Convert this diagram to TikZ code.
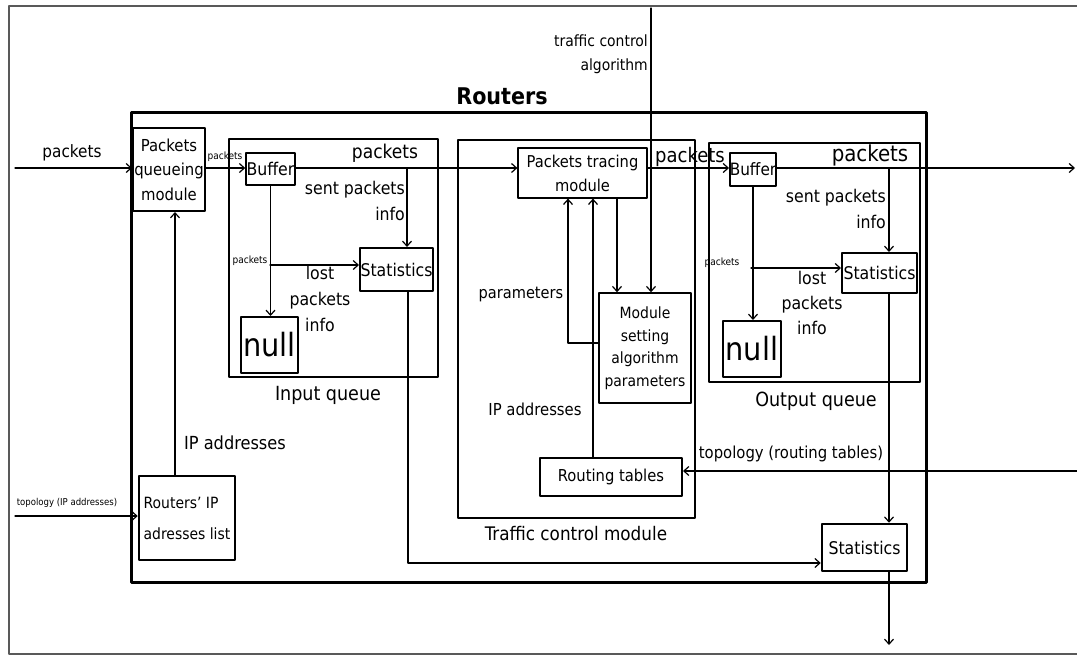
\documentclass[tikz,border=0pt]{standalone}
\usepackage{fontspec}
\setmainfont{DejaVu Sans Condensed}
\usetikzlibrary{arrows.meta}

\tikzset{
  box/.style={draw, rectangle, inner sep=0pt, align=center},
  wire/.style={line width=1.2pt, -{Straight Barb[length=5pt,width=9pt,line width=1.2pt]}},
  lbl/.style={inner sep=0pt, align=center},
}
\newcommand{\fs}[2]{\fontsize{#1}{#2}\selectfont}

\begin{document}
\begin{tikzpicture}[x=1pt, y=-1pt, line cap=round, line join=round]

  %% ════ 外框（右边没有线）════
  \draw[line width=1.5pt, black!65] (1077,6) -- (9,6) -- (9,654) -- (1077,654);

  %% ════ 容器 ════
  \node[box, line width=3pt, minimum width=795pt, minimum height=470pt] (routers) at (528.5,347) {};
  \node[box, line width=2pt, minimum width=209pt, minimum height=238pt] (inq) at (333.5,258) {};
  \node[box, line width=2pt, minimum width=237pt, minimum height=378pt] (tcm) at (576.5,329) {};
  \node[box, line width=2.5pt, minimum width=211pt, minimum height=239pt] (outq) at (814.5,262.5) {};

  %% ════ 方块 ════
  \node[box, line width=2pt, minimum width=72pt, minimum height=83pt, font=\fs{16.5}{24.5}] (pqm) at (169,169.5) {Packets\\queueing\\module};
  \node[box, line width=1.5pt, minimum width=49pt, minimum height=32pt, font=\fs{17.5}{20}] (inbuf) at (270.5,169) {Buffer};
  \node[box, line width=2pt, minimum width=73pt, minimum height=43pt, font=\fs{17.5}{20}] (instat) at (396.5,269.5) {Statistics};
  \node[box, line width=2pt, minimum width=57pt, minimum height=56pt, font=\fs{32}{34}] (innull) at (269.5,345) {null};
  \node[box, line width=1.2pt, minimum width=129pt, minimum height=50pt, font=\fs{16.3}{24}] (ptm) at (582.5,173) {Packets tracing\\module};
  \node[box, line width=1.5pt, minimum width=92pt, minimum height=110pt, font=\fs{15.5}{22.5}] (msap) at (645,348) {Module\\setting\\algorithm\\parameters};
  \node[box, line width=2pt, minimum width=142pt, minimum height=38pt, font=\fs{16.4}{20}] (rt) at (611,477) {Routing tables};
  \node[box, line width=1.5pt, minimum width=46pt, minimum height=33pt, font=\fs{17}{20}] (outbuf) at (753,169.5) {Buffer};
  \node[box, line width=2pt, minimum width=75pt, minimum height=40pt, font=\fs{17.5}{20}] (outstat) at (879.5,273) {Statistics};
  \node[box, line width=2pt, minimum width=58pt, minimum height=56pt, font=\fs{32}{34}] (outnull) at (752,349) {null};
  \node[box, line width=2.5pt, minimum width=85pt, minimum height=47pt, font=\fs{17.5}{20}] (botstat) at (864.5,547.5) {Statistics};
  \node[box, line width=2.5pt, minimum width=96pt, minimum height=84pt, align=left, font=\fs{15.5}{31}] (rip) at (187,518) {Routers' IP\\adresses list};

  %% ════ 端点 ════
  \coordinate (pin) at (15,168);
  \coordinate (pout) at (1075,168);
  \coordinate (topoin) at (15,516);
  \coordinate (topoout) at (1077,471);
  \coordinate (tca) at (651,8);
  \coordinate (insent) at (407,168);
  \coordinate (inlost) at (270,265);
  \coordinate (statbend) at (408,563);
  \coordinate (ipup) at (175,476);
  \coordinate (outsent) at (889,168);
  \coordinate (outlost) at (751,268);
  \coordinate (setdown) at (617,198);
  \coordinate (parbend) at (568,343);
  \coordinate (rtup) at (593,458);
  \coordinate (statout) at (889,645);

  %% ════ 连线 ════
  \draw[wire] (pin) -- (pin -| pqm.west);
  \draw[wire] (pqm.east |- pin) -- (pin -| inbuf.west);
  \draw[wire] (inbuf.east |- pin) -- (pin -| ptm.west);
  \draw[wire] (ptm.east |- pin) -- (pin -| outbuf.west);
  \draw[wire] (outbuf.east |- pin) -- (pout);
  \draw[wire] (insent) -- (insent |- instat.north);
  \draw[wire] (inbuf.south) -- (inbuf.south |- innull.north);
  \draw[wire] (inlost) -- (inlost -| instat.west);
  \draw[wire] (statbend |- instat.south) -- (statbend) -- (statbend -| botstat.west);
  \draw[wire] (ipup) -- (ipup |- pqm.south);
  \draw[wire] (topoin) -- (topoin -| rip.west);
  \draw[wire] (tca) -- (tca |- msap.north);
  \draw[wire] (setdown) -- (setdown |- msap.north);
  \draw[wire] (parbend -| msap.west) -- (parbend) -- (parbend |- ptm.south);
  \draw[wire] (rtup) -- (rtup |- ptm.south);
  \draw[wire] (topoout) -- (topoout -| rt.east);
  \draw[wire] (outsent) -- (outsent |- outstat.north);
  \draw[wire] (outbuf.south) -- (outbuf.south |- outnull.north);
  \draw[wire] (outlost) -- (outlost -| outstat.west);
  \draw[wire] (outsent |- outstat.south) -- (outsent |- botstat.north);
  \draw[wire] (outsent |- botstat.south) -- (statout);

  %% ════ 标签 ════
  \node[lbl, font=\bfseries\fs{23}{26}] (tRouters) at (502,96) {Routers};
  \node[lbl, font=\fs{17}{20}] (tPk1) at (72,153) {packets};
  \node[lbl, font=\fs{10}{12}] (tPk2) at (225,157) {packets};
  \node[lbl, font=\fs{19}{22}] (tPk3) at (385,153) {packets};
  \node[lbl, font=\fs{20}{22}] (tPk4) at (690,157) {packets};
  \node[lbl, font=\fs{22}{24}] (tPk5) at (870,155) {packets};
  \node[lbl, anchor=north east, align=right, font=\fs{17.5}{26}] (tSent1) at (405,181) {sent packets\\info};
  \node[lbl, anchor=north east, align=right, font=\fs{17.5}{26}] (tSent2) at (886,189) {sent packets\\info};
  \node[lbl, font=\fs{10}{12}] (tPk6) at (250,261) {packets};
  \node[lbl, font=\fs{10}{12}] (tPk7) at (722,263) {packets};
  \node[lbl, anchor=north, font=\fs{17.5}{26}] (tLost1) at (320,266) {lost\\packets\\info};
  \node[lbl, anchor=north, font=\fs{17.5}{25}] (tLost2) at (812,271) {lost\\packets\\info};
  \node[lbl, font=\fs{19.5}{22}] (tInq) at (328,395) {Input queue};
  \node[lbl, font=\fs{19.5}{22}] (tOutq) at (816,401) {Output queue};
  \node[lbl, font=\fs{18}{20}] (tIp1) at (235,443) {IP addresses};
  \node[lbl, font=\fs{16.5}{20}] (tIp2) at (535,409) {IP addresses};
  \node[lbl, font=\fs{16.2}{20}] (tPar) at (521,294) {parameters};
  \node[lbl, font=\fs{9.5}{12}] (tTopo1) at (67,503) {topology (IP addresses)};
  \node[lbl, font=\fs{16.5}{20}] (tTopo2) at (791,454) {topology (routing tables)};
  \node[lbl, anchor=north east, align=right, font=\fs{15.5}{24}] (tTca) at (648,35) {traffic control\\algorithm};
  \node[lbl, font=\fs{18.7}{22}] (tTcm) at (576,534) {Traffic control module};

  % 钉死画布
  \pgfresetboundingbox
  \path[use as bounding box] (0,0) rectangle (1077,656);
\end{tikzpicture}
\end{document}
